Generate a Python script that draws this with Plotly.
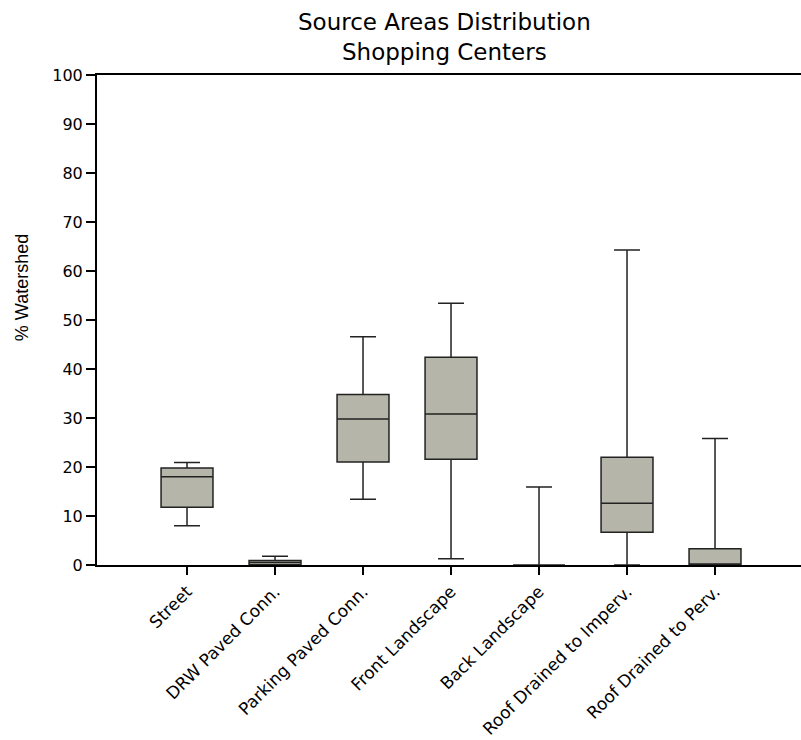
import plotly.graph_objects as go

# Source area shares (% of watershed) for shopping centers
categories = [
    "Street",
    "DRW Paved Conn.",
    "Parking Paved Conn.",
    "Front Landscape",
    "Back Landscape",
    "Roof Drained to Imperv.",
    "Roof Drained to Perv.",
]
lower_whisker = [8.0, 0.0, 13.4, 1.3, 0.0, 0.0, 0.0]
q1_values = [11.8, 0.05, 21.0, 21.6, 0.0, 6.7, 0.0]
median_values = [18.0, 0.5, 29.8, 30.8, 0.0, 12.6, 0.0]
q3_values = [19.8, 0.9, 34.8, 42.4, 0.0, 22.0, 3.3]
upper_whisker = [20.9, 1.8, 46.6, 53.4, 15.9, 64.3, 25.8]
y_ticks = [0, 10, 20, 30, 40, 50, 60, 70, 80, 90, 100]

FONT = "DejaVu Sans, Arial, sans-serif"
CAPTION_FONT = "Liberation Sans, Arial, sans-serif"

fig = go.Figure()
fig.add_trace(go.Box(
    x=categories,
    q1=q1_values,
    median=median_values,
    q3=q3_values,
    lowerfence=lower_whisker,
    upperfence=upper_whisker,
    boxpoints=False,
    width=0.59,
    whiskerwidth=0.5,
    fillcolor="#b5b5a9",
    line=dict(color="#222222", width=1.5),
    showlegend=False,
    hoverinfo="skip",
))

# two-line chart heading and the y-axis caption
fig.add_annotation(text="Source Areas Distribution<br>Shopping Centers",
                   xref="paper", yref="paper",
                   x=0.494, y=1.0776, xanchor="center", yanchor="middle", showarrow=False,
                   font=dict(size=23, family=FONT, color="black"))
fig.add_annotation(text="% Watershed", xref="paper", yref="paper",
                   x=-0.1065, y=0.565, xanchor="center", yanchor="middle", showarrow=False,
                   textangle=-90, font=dict(size=18, family=CAPTION_FONT, color="black"))

fig.update_layout(
    width=801,
    height=740,
    margin=dict(l=97, r=0, t=75, b=175),
    paper_bgcolor="white",
    plot_bgcolor="white",
    font=dict(family=FONT, color="black"),
    xaxis=dict(
        type="category",
        categoryorder="array",
        categoryarray=categories,
        range=[-1.023, 6.977],
        showgrid=False,
        zeroline=False,
        showline=True,
        linecolor="black",
        linewidth=2,
        mirror=True,
        ticks="outside",
        ticklen=8,
        tickwidth=2,
        tickcolor="black",
        tickangle=-45,
        tickfont=dict(size=17, family=FONT, color="black"),
    ),
    yaxis=dict(
        range=[0, 100],
        tickvals=y_ticks,
        showgrid=False,
        zeroline=False,
        showline=True,
        linecolor="black",
        linewidth=2,
        ticks="outside",
        ticklen=9,
        tickwidth=1.5,
        tickcolor="black",
        tickfont=dict(size=16, family=FONT, color="black"),
    ),
)

fig.write_html("out.html")
